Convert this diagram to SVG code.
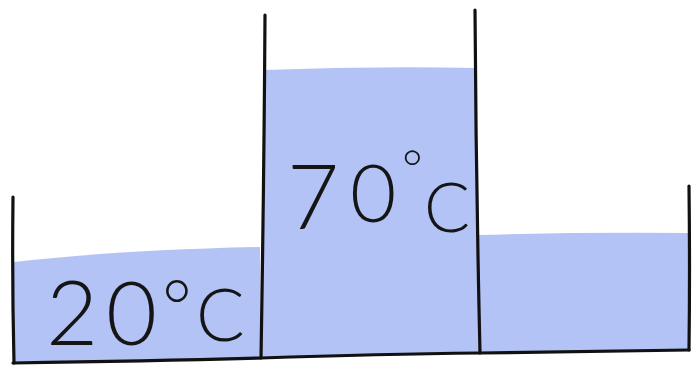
<svg xmlns="http://www.w3.org/2000/svg" width="692" height="369" viewBox="0 0 692 369">
<style>
.water{fill:#b3c3f5;stroke:none}
.line{fill:none;stroke:#111;stroke-width:3.2;stroke-linecap:round;stroke-linejoin:round}
.lbl{font-family:"Lato","Open Sans","Liberation Sans",sans-serif;fill:#151515;font-weight:300}
</style>
<rect width="692" height="369" fill="#ffffff"/>
<g id="left-tank">
<path class="water" d="M14,262 Q120,250 260,247 L261,360 L14,362 Z"/>
<text class="lbl"><tspan x="46" y="345" font-size="90">2</tspan><tspan x="106" y="345" font-size="88">0</tspan><tspan x="162" y="333" font-size="72">°</tspan><tspan x="196" y="341" font-size="72">C</tspan></text>
</g>
<g id="middle-tank">
<path class="water" d="M264,70 Q370,66 476,68 L480,353 L262,357 Z"/>
<text class="lbl"><tspan x="287" y="229" font-size="90">7</tspan><tspan x="350" y="222" font-size="80">0</tspan><tspan x="402" y="186" font-size="50">°</tspan><tspan x="424" y="232" font-size="68">C</tspan></text>
</g>
<g id="right-tank">
<path class="water" d="M478,235 Q580,232 689,233 L689,350 L480,353 Z"/>
</g>
<g id="walls">
<path class="line" d="M13,197 Q12,280 14,363"/>
<path class="line" d="M265,15 Q264,180 261,358"/>
<path class="line" d="M475,10 Q476,180 480,353"/>
<path class="line" d="M689,186 Q690,270 689,350"/>
<path class="line" d="M13,363 Q150,361 261,358 Q380,354 480,353 Q600,351 689,350"/>
</g>
</svg>
